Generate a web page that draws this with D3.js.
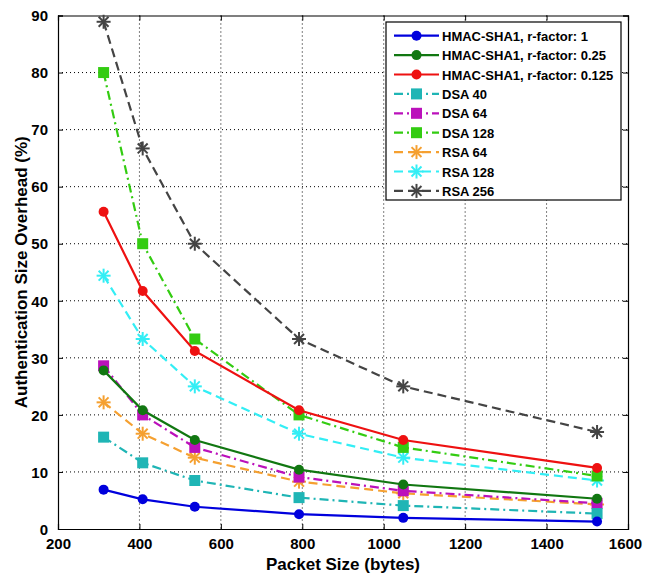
<!DOCTYPE html>
<html>
<head>
<meta charset="utf-8">
<script src="https://cdn.jsdelivr.net/npm/d3@7"></script>
<style>
  body { margin: 0; background: #fff; }
  .tick text { font-family: "Liberation Sans Narrow", "Arial Narrow", sans-serif; font-weight: bold; font-size: 15px; fill: #000; }
  .lab { font-family: "Liberation Sans", Arial, sans-serif; font-weight: bold; font-size: 17px; fill: #000; }
  .leg { font-family: "Liberation Sans", Arial, sans-serif; font-weight: bold; font-size: 13px; fill: #000; }
</style>
</head>
<body>
<div id="chart"></div>
<script>
// packet sizes (bytes)
var packetSize = [312, 408, 536, 792, 1048, 1524];

// overhead (%) per series
var hmac1   = [6.9, 5.2, 3.9, 2.6, 1.95, 1.3];
var hmac025 = [27.8, 20.8, 15.6, 10.4, 7.8, 5.3];
var hmac0125 = [55.6, 41.7, 31.2, 20.8, 15.6, 10.7];
var dsa40   = [16.1, 11.6, 8.5, 5.5, 4.1, 2.7];
var dsa64   = [28.6, 20.0, 14.3, 9.1, 6.7, 4.5];
var dsa128  = [80.0, 50.0, 33.3, 20.0, 14.3, 9.3];
var rsa64   = [22.2, 16.7, 12.5, 8.3, 6.25, 4.3];
var rsa128  = [44.4, 33.3, 25.0, 16.7, 12.5, 8.5];
var rsa256  = [88.9, 66.7, 50.0, 33.3, 25.0, 17.0];

var xTicks = [200, 400, 600, 800, 1000, 1200, 1400, 1600];
var yTicks = [0, 10, 20, 30, 40, 50, 60, 70, 80, 90];

var series = [
  { name: "HMAC-SHA1, r-factor: 1",     values: hmac1,    color: "#0000dd", dash: null,          marker: "circle" },
  { name: "HMAC-SHA1, r-factor: 0.25",  values: hmac025,  color: "#117711", dash: null,          marker: "circle" },
  { name: "HMAC-SHA1, r-factor: 0.125", values: hmac0125, color: "#ee1111", dash: null,          marker: "circle" },
  { name: "DSA 40",  values: dsa40,  color: "#1fb5b5", dash: "9,4,2,4", marker: "square" },
  { name: "DSA 64",  values: dsa64,  color: "#bb11bb", dash: "9,4,2,4", marker: "square" },
  { name: "DSA 128", values: dsa128, color: "#33cc11", dash: "9,4,2,4", marker: "square" },
  { name: "RSA 64",  values: rsa64,  color: "#f5a030", dash: "9,5",     marker: "star" },
  { name: "RSA 128", values: rsa128, color: "#33eef5", dash: "9,5",     marker: "star" },
  { name: "RSA 256", values: rsa256, color: "#444444", dash: "9,5",     marker: "star" }
];

var margin = { top: 15.5, right: 17, bottom: 47, left: 58 };
var W = 645, H = 576;
var width = W - margin.left - margin.right, height = H - margin.top - margin.bottom;

var svg = d3.select("#chart").append("svg")
    .attr("width", W).attr("height", H);
var g = svg.append("g")
    .attr("transform", "translate(" + margin.left + "," + margin.top + ")");

var x = d3.scaleLinear().domain([200, 1600]).range([0, width]);
var y = d3.scaleLinear().domain([0, 90]).range([height, 0]);

// dotted grid
g.append("g").selectAll("line.gx")
  .data(xTicks.slice(1, -1)).enter().append("line")
    .attr("x1", function(d) { return x(d); }).attr("x2", function(d) { return x(d); })
    .attr("y1", 0).attr("y2", height)
    .attr("stroke", "#000").attr("stroke-width", 1).attr("stroke-dasharray", "1,3");
g.append("g").selectAll("line.gy")
  .data(yTicks.slice(1, -1)).enter().append("line")
    .attr("y1", function(d) { return y(d); }).attr("y2", function(d) { return y(d); })
    .attr("x1", 0).attr("x2", width)
    .attr("stroke", "#000").attr("stroke-width", 1).attr("stroke-dasharray", "1,3");

// axes (ticks inward, boxed)
var xAxis = g.append("g").attr("transform", "translate(0," + height + ")")
  .call(d3.axisBottom(x).tickValues(xTicks).tickFormat(d3.format("d")).tickSize(-5).tickPadding(9));
var yAxis = g.append("g")
  .call(d3.axisLeft(y).tickValues(yTicks).tickFormat(d3.format("d")).tickSize(-5).tickPadding(10));
g.append("g").call(d3.axisTop(x).tickValues(xTicks).tickSize(-5).tickFormat(""));
g.append("g").attr("transform", "translate(" + width + ",0)")
  .call(d3.axisRight(y).tickValues(yTicks).tickSize(-5).tickFormat(""));
g.selectAll(".domain").attr("stroke", "#000").attr("stroke-width", 1.2);
g.selectAll(".tick line").attr("stroke", "#000");
yAxis.selectAll(".tick text").attr("dy", "0.35em");
// keep the last x label inside the window
xAxis.selectAll(".tick text").filter(function(d) { return d == 1600; }).attr("dx", "-3");

// lines
var line = d3.line()
  .x(function(d, i) { return x(packetSize[i]); })
  .y(function(d) { return y(d); });

function drawMarker(sel, s, cx, cy) {
  if (s.marker == "circle") {
    sel.append("circle").attr("cx", cx).attr("cy", cy).attr("r", 5).attr("fill", s.color);
  } else if (s.marker == "square") {
    sel.append("rect").attr("x", cx - 5.5).attr("y", cy - 5.5).attr("width", 11).attr("height", 11).attr("fill", s.color);
  } else {
    var r = 7;
    [0, 45, 90, 135].forEach(function(a) {
      var t = a * Math.PI / 180;
      sel.append("line")
        .attr("x1", cx - r * Math.cos(t)).attr("y1", cy - r * Math.sin(t))
        .attr("x2", cx + r * Math.cos(t)).attr("y2", cy + r * Math.sin(t))
        .attr("stroke", s.color).attr("stroke-width", 2);
    });
  }
}

// draw in reverse order so earlier series sit on top
series.slice().reverse().forEach(function(s) {
  g.append("path")
    .datum(s.values)
    .attr("d", line)
    .attr("fill", "none")
    .attr("stroke", s.color)
    .attr("stroke-width", 2.2)
    .attr("stroke-dasharray", s.dash);
  var mg = g.append("g");
  s.values.forEach(function(v, i) { drawMarker(mg, s, x(packetSize[i]), y(v)); });
});

// axis labels
svg.append("text").attr("class", "lab")
  .attr("x", margin.left + width / 2).attr("y", 570)
  .attr("text-anchor", "middle").text("Packet Size (bytes)");
svg.append("text").attr("class", "lab")
  .attr("transform", "translate(27," + (margin.top + height / 2) + ") rotate(-90)")
  .attr("text-anchor", "middle").text("Authentication Size Overhead (%)");

// legend
var lx = 386, ly = 22, lw = 235, lh = 178;
var leg = svg.append("g");
leg.append("rect").attr("x", lx).attr("y", ly).attr("width", lw).attr("height", lh)
  .attr("fill", "#fff").attr("stroke", "#000").attr("stroke-width", 1.2);
series.forEach(function(s, i) {
  var cy = ly + 13.7 + i * 19.4;
  leg.append("line").attr("x1", lx + 8).attr("x2", lx + 53)
    .attr("y1", cy).attr("y2", cy)
    .attr("stroke", s.color).attr("stroke-width", 2.2)
    .attr("stroke-dasharray", s.dash);
  drawMarker(leg, s, lx + 30.5, cy);
  leg.append("text").attr("class", "leg")
    .attr("x", lx + 56).attr("y", cy + 5).text(s.name);
});
</script>
</body>
</html>
